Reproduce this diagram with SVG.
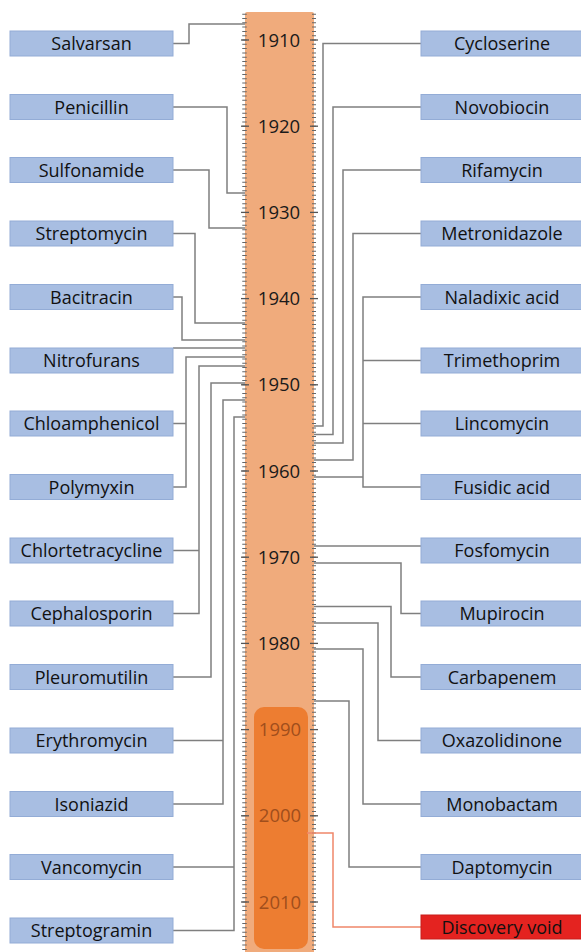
<svg xmlns="http://www.w3.org/2000/svg" width="581" height="952" viewBox="0 0 581 952">
<defs>
<style>
.box{fill:#A8BEE2;stroke:#93ACD6;stroke-width:1}
.void{fill:#E42320;stroke:#C81E1A;stroke-width:1}
.lbl{font-family:"Open Sans","Liberation Sans",sans-serif;font-size:18px;fill:#111111;text-anchor:middle}
.yr{font-family:"Open Sans","Liberation Sans",sans-serif;font-size:18.5px;fill:#1a1a1a;text-anchor:middle}
.yr2{fill:#A04E1C}
.con{fill:none;stroke:#7f7f7f;stroke-width:1.5}
.con2{fill:none;stroke:#F0876A;stroke-width:1.5}
.tick{stroke:#666;stroke-dasharray:1 3.31}
.maj{stroke:#555;stroke-width:1.3}
</style>
</defs>
<rect width="581" height="952" fill="#ffffff"/>
<g id="timeline">
<rect x="245" y="12" width="69" height="945" rx="2" fill="#F0AB7C"/>
<rect x="254" y="707" width="54" height="242" rx="10" fill="#ED7D31"/>
<line class="tick" x1="244.5" y1="13.64" x2="244.5" y2="952" stroke-width="4.5"/>
<line class="tick" x1="314" y1="13.64" x2="314" y2="952" stroke-width="4"/>
<g class="maj">
<line x1="241" y1="40" x2="249" y2="40"/><line x1="310" y1="40" x2="318" y2="40"/>
<line x1="241" y1="126.2" x2="249" y2="126.2"/><line x1="310" y1="126.2" x2="318" y2="126.2"/>
<line x1="241" y1="212.4" x2="249" y2="212.4"/><line x1="310" y1="212.4" x2="318" y2="212.4"/>
<line x1="241" y1="298.6" x2="249" y2="298.6"/><line x1="310" y1="298.6" x2="318" y2="298.6"/>
<line x1="241" y1="384.8" x2="249" y2="384.8"/><line x1="310" y1="384.8" x2="318" y2="384.8"/>
<line x1="241" y1="471" x2="249" y2="471"/><line x1="310" y1="471" x2="318" y2="471"/>
<line x1="241" y1="557.2" x2="249" y2="557.2"/><line x1="310" y1="557.2" x2="318" y2="557.2"/>
<line x1="241" y1="643.4" x2="249" y2="643.4"/><line x1="310" y1="643.4" x2="318" y2="643.4"/>
<line x1="241" y1="729.6" x2="249" y2="729.6"/><line x1="310" y1="729.6" x2="318" y2="729.6"/>
<line x1="241" y1="815.8" x2="249" y2="815.8"/><line x1="310" y1="815.8" x2="318" y2="815.8"/>
<line x1="241" y1="902" x2="249" y2="902"/><line x1="310" y1="902" x2="318" y2="902"/>
</g>
<text class="yr" x="279" y="46.5">1910</text>
<text class="yr" x="279" y="132.7">1920</text>
<text class="yr" x="279" y="218.9">1930</text>
<text class="yr" x="279" y="305.1">1940</text>
<text class="yr" x="279" y="391.3">1950</text>
<text class="yr" x="279" y="477.5">1960</text>
<text class="yr" x="279" y="563.7">1970</text>
<text class="yr" x="279" y="649.9">1980</text>
<text class="yr yr2" x="280" y="736.1">1990</text>
<text class="yr yr2" x="280" y="822.3">2000</text>
<text class="yr yr2" x="280" y="908.5">2010</text>
</g>
<g id="connectors">
<path class="con" d="M173,43.5 H189 V24 H245"/>
<path class="con" d="M173,107 H227 V193 H245"/>
<path class="con" d="M173,170 H209 V228 H245"/>
<path class="con" d="M173,233.5 H195 V323 H245"/>
<path class="con" d="M173,297 H182 V340 H245"/>
<path class="con" d="M173,348 H245"/>
<path class="con" d="M245,357 H186 V487 H173 M186,423.5 H173"/>
<path class="con" d="M245,366 H199 V613.5 H173 M199,550.5 H173"/>
<path class="con" d="M245,383 H211 V677 H173"/>
<path class="con" d="M245,400 H223 V804 H173 M223,740.5 H173"/>
<path class="con" d="M245,417 H234 V930.5 H173 M234,867 H173"/>
<path class="con" d="M314,426 H323 V43.5 H421"/>
<path class="con" d="M314,434.5 H333 V107 H421"/>
<path class="con" d="M314,443 H343 V170 H421"/>
<path class="con" d="M314,460 H353 V233.5 H421"/>
<path class="con" d="M314,477 H363 M421,297 H363 V487 H421 M363,360.5 H421 M363,423.5 H421"/>
<path class="con" d="M314,546 H421"/>
<path class="con" d="M314,563 H401 V613.5 H421"/>
<path class="con" d="M314,606.5 H391 V677 H421"/>
<path class="con" d="M314,623 H378 V740.5 H421"/>
<path class="con" d="M314,649 H363 V804 H421"/>
<path class="con" d="M314,701 H349 V867 H421"/>
<path class="con2" d="M307,833 H333 V927 H421"/>
</g>
<g id="salvarsan"><rect class="box" x="10" y="31" width="163" height="25"/><text class="lbl" x="91.5" y="50">Salvarsan</text></g>
<g id="penicillin"><rect class="box" x="10" y="94.5" width="163" height="25"/><text class="lbl" x="91.5" y="113.5">Penicillin</text></g>
<g id="sulfonamide"><rect class="box" x="10" y="157.5" width="163" height="25"/><text class="lbl" x="91.5" y="176.5">Sulfonamide</text></g>
<g id="streptomycin"><rect class="box" x="10" y="221" width="163" height="25"/><text class="lbl" x="91.5" y="240">Streptomycin</text></g>
<g id="bacitracin"><rect class="box" x="10" y="284.5" width="163" height="25"/><text class="lbl" x="91.5" y="303.5">Bacitracin</text></g>
<g id="nitrofurans"><rect class="box" x="10" y="348" width="163" height="25"/><text class="lbl" x="91.5" y="367">Nitrofurans</text></g>
<g id="chloamphenicol"><rect class="box" x="10" y="411" width="163" height="25"/><text class="lbl" x="91.5" y="430">Chloamphenicol</text></g>
<g id="polymyxin"><rect class="box" x="10" y="474.5" width="163" height="25"/><text class="lbl" x="91.5" y="493.5">Polymyxin</text></g>
<g id="chlortetracycline"><rect class="box" x="10" y="538" width="163" height="25"/><text class="lbl" x="91.5" y="557">Chlortetracycline</text></g>
<g id="cephalosporin"><rect class="box" x="10" y="601" width="163" height="25"/><text class="lbl" x="91.5" y="620">Cephalosporin</text></g>
<g id="pleuromutilin"><rect class="box" x="10" y="664.5" width="163" height="25"/><text class="lbl" x="91.5" y="683.5">Pleuromutilin</text></g>
<g id="erythromycin"><rect class="box" x="10" y="728" width="163" height="25"/><text class="lbl" x="91.5" y="747">Erythromycin</text></g>
<g id="isoniazid"><rect class="box" x="10" y="791.5" width="163" height="25"/><text class="lbl" x="91.5" y="810.5">Isoniazid</text></g>
<g id="vancomycin"><rect class="box" x="10" y="854.5" width="163" height="25"/><text class="lbl" x="91.5" y="873.5">Vancomycin</text></g>
<g id="streptogramin"><rect class="box" x="10" y="918" width="163" height="25"/><text class="lbl" x="91.5" y="937">Streptogramin</text></g>
<g id="cycloserine"><rect class="box" x="421" y="31" width="162" height="25"/><text class="lbl" x="502" y="50">Cycloserine</text></g>
<g id="novobiocin"><rect class="box" x="421" y="94.5" width="162" height="25"/><text class="lbl" x="502" y="113.5">Novobiocin</text></g>
<g id="rifamycin"><rect class="box" x="421" y="157.5" width="162" height="25"/><text class="lbl" x="502" y="176.5">Rifamycin</text></g>
<g id="metronidazole"><rect class="box" x="421" y="221" width="162" height="25"/><text class="lbl" x="502" y="240">Metronidazole</text></g>
<g id="naladixic"><rect class="box" x="421" y="284.5" width="162" height="25"/><text class="lbl" x="502" y="303.5">Naladixic acid</text></g>
<g id="trimethoprim"><rect class="box" x="421" y="348" width="162" height="25"/><text class="lbl" x="502" y="367">Trimethoprim</text></g>
<g id="lincomycin"><rect class="box" x="421" y="411" width="162" height="25"/><text class="lbl" x="502" y="430">Lincomycin</text></g>
<g id="fusidic"><rect class="box" x="421" y="474.5" width="162" height="25"/><text class="lbl" x="502" y="493.5">Fusidic acid</text></g>
<g id="fosfomycin"><rect class="box" x="421" y="538" width="162" height="25"/><text class="lbl" x="502" y="557">Fosfomycin</text></g>
<g id="mupirocin"><rect class="box" x="421" y="601" width="162" height="25"/><text class="lbl" x="502" y="620">Mupirocin</text></g>
<g id="carbapenem"><rect class="box" x="421" y="664.5" width="162" height="25"/><text class="lbl" x="502" y="683.5">Carbapenem</text></g>
<g id="oxazolidinone"><rect class="box" x="421" y="728" width="162" height="25"/><text class="lbl" x="502" y="747">Oxazolidinone</text></g>
<g id="monobactam"><rect class="box" x="421" y="791.5" width="162" height="25"/><text class="lbl" x="502" y="810.5">Monobactam</text></g>
<g id="daptomycin"><rect class="box" x="421" y="854.5" width="162" height="25"/><text class="lbl" x="502" y="873.5">Daptomycin</text></g>
<g id="discovery-void"><rect class="void" x="421" y="915" width="162" height="24"/><text class="lbl" x="502" y="933.5">Discovery void</text></g>
</svg>
